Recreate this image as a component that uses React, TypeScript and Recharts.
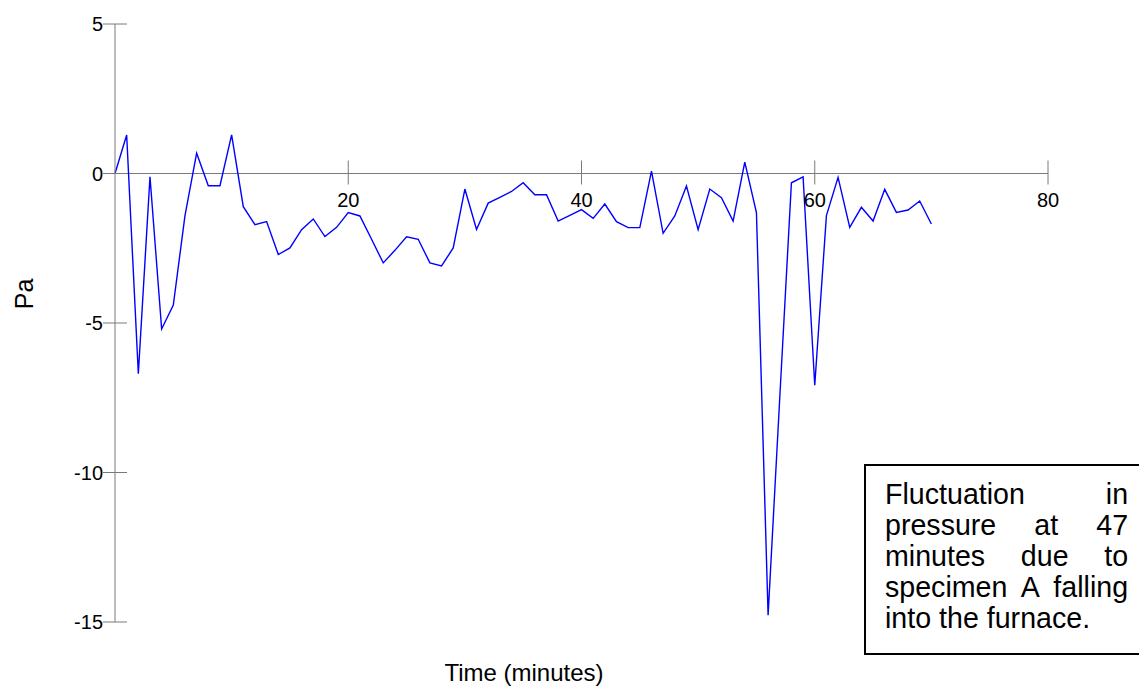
import React from "react";
import { LineChart, Line, XAxis, YAxis, ReferenceLine } from "recharts";

const minutes = [
  0, 1, 2, 3, 4, 5, 6, 7, 8, 9, 10, 11, 12, 13, 14, 15, 16, 17, 18, 19, 20,
  21, 22, 23, 24, 25, 26, 27, 28, 29, 30, 31, 32, 33, 34, 35, 36, 37, 38, 39,
  40, 41, 42, 43, 44, 45, 46, 47, 48, 49, 50, 51, 52, 53, 54, 55, 56, 57, 58,
  59, 60, 61, 62, 63, 64, 65, 66, 67, 68, 69, 70,
];

const pressure = [
  0, 1.29, -6.7, -0.11, -5.2, -4.4, -1.41, 0.68, -0.41, -0.41, 1.29, -1.11,
  -1.71, -1.61, -2.71, -2.49, -1.88, -1.52, -2.11, -1.8, -1.31, -1.42, -2.2,
  -2.99, -2.57, -2.12, -2.2, -2.99, -3.09, -2.49, -0.52, -1.87, -0.99, -0.8,
  -0.6, -0.31, -0.71, -0.71, -1.59, -1.4, -1.21, -1.5, -1.02, -1.61, -1.81,
  -1.81, 0.08, -2.0, -1.42, -0.42, -1.88, -0.52, -0.81, -1.59, 0.38, -1.31,
  -14.77, -7.5, -0.31, -0.11, -7.08, -1.41, -0.13, -1.8, -1.13, -1.59, -0.53,
  -1.3, -1.22, -0.92, -1.69,
];

const xTicks = [20, 40, 60, 80];
const yTicks = [-15, -10, -5, 0, 5];
const Y_MIN = -15;
const Y_MAX = 5;

const data = minutes.map((t, i) => ({ t, pa: pressure[i] }));

const FONT = "'Liberation Sans', Arial, sans-serif";
const AXIS = "#7a7a7a";

// plot box (px)
const PLOT_TOP = 24;
const PLOT_H = 598;
const zeroY = PLOT_TOP + (PLOT_H * Y_MAX) / (Y_MAX - Y_MIN);

// x ticks sit on the zero line, not at the bottom of the plot
function XTick(props: any) {
  const { x, payload } = props;
  return (
    <g>
      <line x1={x} x2={x} y1={zeroY - 13} y2={zeroY + 11} stroke={AXIS} />
      <text x={x} y={zeroY + 33} textAnchor="middle" fontSize={20} fontFamily={FONT} fill="#000">
        {payload.value}
      </text>
    </g>
  );
}

function YTick(props: any) {
  const { x, y, payload } = props;
  return (
    <g>
      <line x1={x - 12} x2={x + 12} y1={y} y2={y} stroke={AXIS} />
      <text x={x - 12} y={y + 7} textAnchor="end" fontSize={20} fontFamily={FONT} fill="#000">
        {payload.value}
      </text>
    </g>
  );
}

export default function App() {
  return (
    <div
      style={{
        position: "absolute",
        left: 0,
        top: 0,
        width: 1139,
        height: 689,
        overflow: "hidden",
        background: "#fff",
        fontFamily: FONT,
      }}
    >
      <LineChart
        width={1139}
        height={689}
        data={data}
        margin={{ top: PLOT_TOP, right: 91, bottom: 37, left: 55 }}
      >
        <XAxis
          dataKey="t"
          type="number"
          domain={[0, 80]}
          ticks={xTicks}
          axisLine={false}
          tickLine={false}
          tickSize={0}
          tickMargin={0}
          height={30}
          tick={XTick}
          interval={0}
        />
        <YAxis
          type="number"
          domain={[Y_MIN, Y_MAX]}
          ticks={yTicks}
          width={60}
          axisLine={{ stroke: AXIS }}
          tickLine={false}
          tickSize={0}
          tickMargin={0}
          tick={YTick}
          interval={0}
        />
        <ReferenceLine y={0} stroke={AXIS} strokeWidth={1} />
        <Line
          type="linear"
          dataKey="pa"
          stroke="#0000ff"
          strokeWidth={1.4}
          dot={false}
          isAnimationActive={false}
        />
      </LineChart>

      <div
        style={{
          position: "absolute",
          left: 24,
          top: 294,
          transform: "translate(-50%, -50%) rotate(-90deg)",
          fontSize: 25,
          lineHeight: 1,
          whiteSpace: "nowrap",
        }}
      >
        Pa
      </div>

      <div
        style={{
          position: "absolute",
          left: 524,
          top: 661,
          transform: "translateX(-50%)",
          fontSize: 24,
          lineHeight: 1,
          whiteSpace: "nowrap",
        }}
      >
        Time (minutes)
      </div>

      <div
        style={{
          position: "absolute",
          left: 864,
          top: 464,
          width: 300,
          height: 187,
          border: "2px solid #000",
          background: "#fff",
        }}
      >
        <div
          style={{
            position: "absolute",
            left: 19,
            top: 13,
            width: 221,
            fontSize: 26,
            lineHeight: "28px",
            textAlign: "justify",
            transform: "scale(1.1)",
            transformOrigin: "left top",
          }}
        >
          Fluctuation in pressure at 47 minutes due to specimen A falling into the furnace.
        </div>
      </div>
    </div>
  );
}
